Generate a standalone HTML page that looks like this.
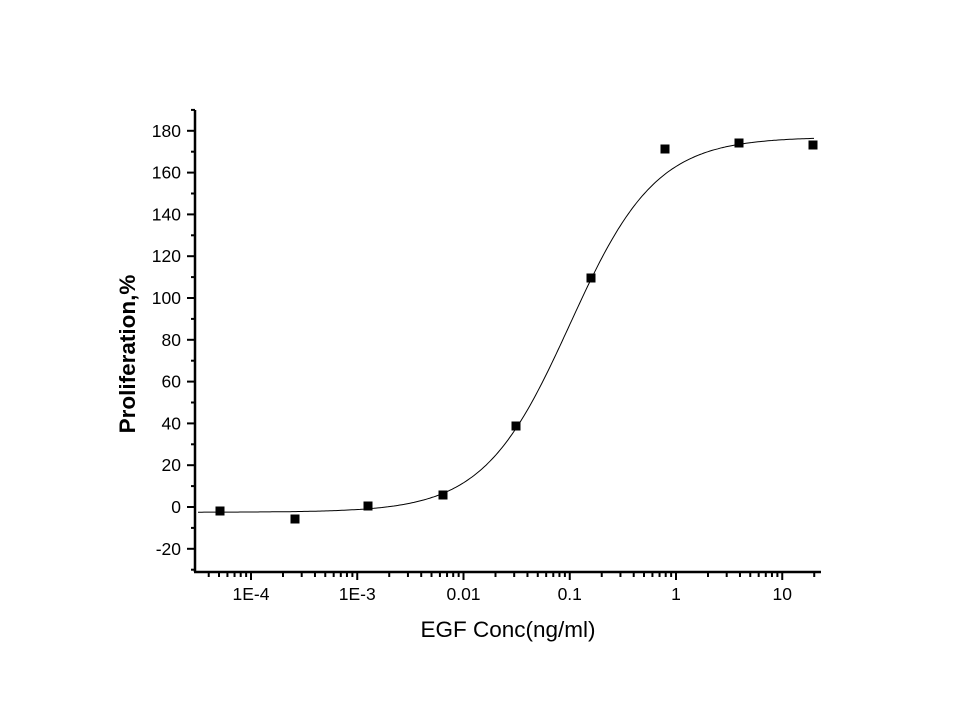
<!DOCTYPE html>
<html><head><style>body{margin:0;background:#fff}</style></head>
<body>
<svg id="s" width="960" height="720" xmlns="http://www.w3.org/2000/svg" font-family="Liberation Sans, Arial, sans-serif">
<rect width="960" height="720" fill="#fff"/>
<g id="g"></g>
<text x="135" y="354" transform="rotate(-90 135 354)" font-size="22.5" font-weight="bold" text-anchor="middle">Proliferation,%</text>
<text x="508" y="637" font-size="22.5" text-anchor="middle">EGF Conc(ng/ml)</text>
</svg>
<script>
var g=document.getElementById('g'),h='';
function X(l){return 251+(l+4)*106.25;}
function Y(v){return 507-v*2.09;}
h+='<line x1="195" y1="110" x2="195" y2="572" stroke="#000" stroke-width="2.5"/>';
h+='<line x1="194" y1="572" x2="821" y2="572" stroke="#000" stroke-width="2.5"/>';
for(var v=-30;v<=190;v+=10){var y=Y(v);var maj=(v%20==0);
h+='<line x1="'+(maj?187:191)+'" y1="'+y+'" x2="195" y2="'+y+'" stroke="#000" stroke-width="2"/>';
if(maj&&v<=180)h+='<text x="181" y="'+(y+6)+'" font-size="17.5" text-anchor="end">'+v+'</text>';}
var labs={'-4':'1E-4','-3':'1E-3','-2':'0.01','-1':'0.1','0':'1','1':'10'};
for(var d=-5;d<=1;d++){for(var k=1;k<=9;k++){var l=d+Math.log10(k);var x=X(l);if(x<196||x>821)continue;
var maj=k==1;h+='<line x1="'+x+'" y1="572" x2="'+x+'" y2="'+(maj?580:577)+'" stroke="#000" stroke-width="2"/>';
if(maj)h+='<text x="'+x+'" y="600" font-size="17.5" text-anchor="middle">'+labs[d]+'</text>';}}
var p='';for(var x=198;x<=814;x+=2){var l=(x-251)/106.25-4;var c=Math.pow(10,l);
var v=-2.5+179.5/(1+Math.pow(0.1/c,1.07));p+=(p?'L':'M')+x+','+Y(v).toFixed(1);}
h+='<path d="'+p+'" fill="none" stroke="#000" stroke-width="1"/>';
var pts=[[220,511],[295,519],[368,506],[443,495],[516,426],[591,278],[665,149],[739,143],[813,145]];
pts.forEach(function(q){h+='<rect x="'+(q[0]-4.5)+'" y="'+(q[1]-4.5)+'" width="9" height="9" fill="#000"/>';});
g.innerHTML=h;
</script>
</body></html>
